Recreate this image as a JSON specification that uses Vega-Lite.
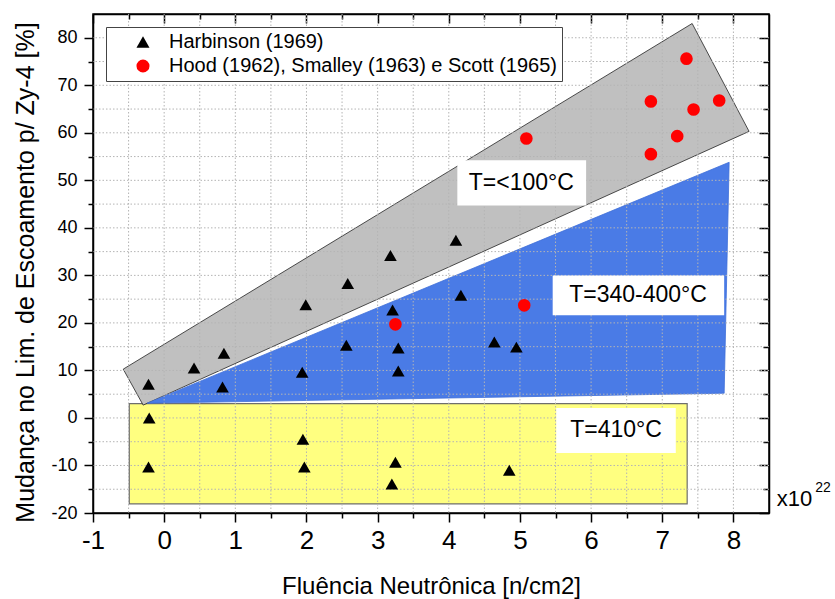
{
  "$schema": "https://vega.github.io/schema/vega-lite/v6.json",
  "width": 676,
  "height": 499,
  "autosize": "none",
  "padding": {"left": 93, "top": 14, "right": 66, "bottom": 86},
  "background": "white",
  "config": {
    "view": {"stroke": "black", "strokeWidth": 1.5},
    "font": "Liberation Sans",
    "axis": {
      "domainColor": "black", "domainWidth": 1.5,
      "tickColor": "black", "tickWidth": 1.5,
      "labelColor": "black", "titleColor": "black",
      "grid": false,
      "labelFont": "Liberation Sans", "titleFont": "Liberation Sans",
      "titleFontWeight": "normal"
    },
    "legend": {
      "orient": "top-left",
      "offset": 13,
      "strokeColor": "#444444",
      "fillColor": "white",
      "padding": 5,
      "labelFont": "Liberation Sans",
      "labelFontSize": 20,
      "labelColor": "black",
      "labelLimit": 600,
      "symbolSize": 170,
      "symbolOffset": 22,
      "labelOffset": 16,
      "rowPadding": 4,
      "symbolStrokeWidth": 0
    }
  },
  "datasets": {
    "zones": [{"zone": "410", "x": -0.49, "x2": 7.35, "y": 3.0, "y2": -18.1}],
    "band_low": [
      {"i": 1, "x": -0.575, "y": 10.27},
      {"i": 2, "x": 7.42, "y": 83.0},
      {"i": 3, "x": 8.22, "y": 60.3},
      {"i": 4, "x": -0.295, "y": 2.7},
      {"i": 5, "x": -0.575, "y": 10.27}
    ],
    "band_mid": [
      {"i": 1, "x": -0.24, "y": 3.1},
      {"i": 2, "x": 7.94, "y": 53.8},
      {"i": 3, "x": 7.87, "y": 5.2},
      {"i": 4, "x": -0.24, "y": 3.1}
    ],
    "grid_x": [
      {"x": -0.5}, {"x": 0}, {"x": 0.5}, {"x": 1}, {"x": 1.5}, {"x": 2}, {"x": 2.5}, {"x": 3}, {"x": 3.5},
      {"x": 4}, {"x": 4.5}, {"x": 5}, {"x": 5.5}, {"x": 6}, {"x": 6.5}, {"x": 7}, {"x": 7.5}, {"x": 8}
    ],
    "grid_y": [
      {"y": -15}, {"y": -10}, {"y": -5}, {"y": 0}, {"y": 5}, {"y": 10}, {"y": 15}, {"y": 20}, {"y": 25}, {"y": 30},
      {"y": 35}, {"y": 40}, {"y": 45}, {"y": 50}, {"y": 55}, {"y": 60}, {"y": 65}, {"y": 70}, {"y": 75}, {"y": 80}
    ],
    "labels": [
      {"label": "T=<100°C", "cx": 5.02, "cy": 49.4, "x_lo": 4.12, "x_hi": 5.93, "y_lo": 44.7, "y_hi": 54.2},
      {"label": "T=340-400°C", "cx": 6.66, "cy": 25.8, "x_lo": 5.46, "x_hi": 7.87, "y_lo": 21.6, "y_hi": 30.0},
      {"label": "T=410°C", "cx": 6.35, "cy": -2.55, "x_lo": 5.51, "x_hi": 7.19, "y_lo": -7.4, "y_hi": 2.07}
    ],
    "exponent": [
      {"part": "base", "t": "x10", "x": 8.61, "y": -18.5},
      {"part": "sup", "t": "22", "x": 9.15, "y": -15.6}
    ],
    "points": [
      {"series": "Harbinson (1969)", "x": -0.22, "y": 7.1},
      {"series": "Harbinson (1969)", "x": 0.42, "y": 10.5},
      {"series": "Harbinson (1969)", "x": 0.84, "y": 13.6},
      {"series": "Harbinson (1969)", "x": 0.82, "y": 6.5},
      {"series": "Harbinson (1969)", "x": 1.94, "y": 9.6},
      {"series": "Harbinson (1969)", "x": 1.99, "y": 23.8},
      {"series": "Harbinson (1969)", "x": 2.58, "y": 28.3},
      {"series": "Harbinson (1969)", "x": 3.18, "y": 34.2},
      {"series": "Harbinson (1969)", "x": 2.56, "y": 15.3},
      {"series": "Harbinson (1969)", "x": 3.21, "y": 22.7},
      {"series": "Harbinson (1969)", "x": 3.29, "y": 14.7},
      {"series": "Harbinson (1969)", "x": 3.29, "y": 9.9},
      {"series": "Harbinson (1969)", "x": 4.10, "y": 37.4},
      {"series": "Harbinson (1969)", "x": 4.17, "y": 25.8},
      {"series": "Harbinson (1969)", "x": 4.64, "y": 16.0},
      {"series": "Harbinson (1969)", "x": 4.95, "y": 14.9},
      {"series": "Harbinson (1969)", "x": -0.21, "y": 0.0},
      {"series": "Harbinson (1969)", "x": -0.22, "y": -10.3},
      {"series": "Harbinson (1969)", "x": 1.95, "y": -4.5},
      {"series": "Harbinson (1969)", "x": 1.97, "y": -10.3},
      {"series": "Harbinson (1969)", "x": 3.25, "y": -9.3},
      {"series": "Harbinson (1969)", "x": 3.20, "y": -13.9},
      {"series": "Harbinson (1969)", "x": 4.85, "y": -11.0},
      {"series": "Hood (1962), Smalley (1963) e Scott (1965)", "x": 3.25, "y": 19.7},
      {"series": "Hood (1962), Smalley (1963) e Scott (1965)", "x": 5.06, "y": 23.7},
      {"series": "Hood (1962), Smalley (1963) e Scott (1965)", "x": 5.09, "y": 58.8},
      {"series": "Hood (1962), Smalley (1963) e Scott (1965)", "x": 6.84, "y": 66.6},
      {"series": "Hood (1962), Smalley (1963) e Scott (1965)", "x": 6.84, "y": 55.5},
      {"series": "Hood (1962), Smalley (1963) e Scott (1965)", "x": 7.21, "y": 59.3},
      {"series": "Hood (1962), Smalley (1963) e Scott (1965)", "x": 7.34, "y": 75.6},
      {"series": "Hood (1962), Smalley (1963) e Scott (1965)", "x": 7.44, "y": 64.9},
      {"series": "Hood (1962), Smalley (1963) e Scott (1965)", "x": 7.80, "y": 66.8}
    ]
  },
  "layer": [
    {
      "data": {"name": "zones"},
      "mark": {"type": "rect", "fill": "#ffff80", "stroke": "#6e6e6e", "strokeWidth": 1.2},
      "encoding": {
        "x": {"field": "x", "type": "quantitative", "scale": {"domain": [-1, 8.5], "nice": false, "zero": false}, "axis": null},
        "x2": {"field": "x2"},
        "y": {"field": "y", "type": "quantitative", "scale": {"domain": [-20, 85], "nice": false, "zero": false}, "axis": null},
        "y2": {"field": "y2"}
      }
    },
    {
      "data": {"name": "band_low"},
      "mark": {"type": "line", "fill": "#c0c0c0", "stroke": "#222222", "strokeWidth": 0.8},
      "encoding": {
        "x": {"field": "x", "type": "quantitative", "scale": {"domain": [-1, 8.5], "nice": false, "zero": false}, "axis": null},
        "y": {"field": "y", "type": "quantitative", "scale": {"domain": [-20, 85], "nice": false, "zero": false}, "axis": null},
        "order": {"field": "i", "type": "quantitative"}
      }
    },
    {
      "data": {"name": "band_mid"},
      "mark": {"type": "line", "fill": "#4a7be6", "stroke": "#3f6fd8", "strokeWidth": 0.8},
      "encoding": {
        "x": {"field": "x", "type": "quantitative", "scale": {"domain": [-1, 8.5], "nice": false, "zero": false}, "axis": null},
        "y": {"field": "y", "type": "quantitative", "scale": {"domain": [-20, 85], "nice": false, "zero": false}, "axis": null},
        "order": {"field": "i", "type": "quantitative"}
      }
    },
    {
      "data": {"name": "grid_x"},
      "mark": {"type": "rule", "color": "#b4b4b4", "strokeDash": [1.5, 2], "strokeWidth": 1},
      "encoding": {
        "x": {
          "field": "x", "type": "quantitative",
          "scale": {"domain": [-1, 8.5], "nice": false, "zero": false},
          "axis": {
            "orient": "top",
            "values": [-1, -0.5, 0, 0.5, 1, 1.5, 2, 2.5, 3, 3.5, 4, 4.5, 5, 5.5, 6, 6.5, 7, 7.5, 8],
            "labels": false,
            "title": null,
            "tickSize": {"condition": {"test": "datum.value % 1 == 0", "value": -9}, "value": -5}
          }
        }
      }
    },
    {
      "data": {"name": "grid_y"},
      "mark": {"type": "rule", "color": "#b4b4b4", "strokeDash": [1.5, 2], "strokeWidth": 1},
      "encoding": {
        "y": {
          "field": "y", "type": "quantitative",
          "scale": {"domain": [-20, 85], "nice": false, "zero": false},
          "axis": {
            "orient": "right",
            "values": [-20, -15, -10, -5, 0, 5, 10, 15, 20, 25, 30, 35, 40, 45, 50, 55, 60, 65, 70, 75, 80],
            "labels": false,
            "title": null,
            "tickSize": {"condition": {"test": "datum.value % 10 == 0", "value": -10}, "value": -6}
          }
        }
      }
    },
    {
      "data": {"name": "labels"},
      "mark": {"type": "rect", "fill": "white"},
      "encoding": {
        "x": {"field": "x_lo", "type": "quantitative", "scale": {"domain": [-1, 8.5], "nice": false, "zero": false}, "axis": null},
        "x2": {"field": "x_hi"},
        "y": {"field": "y_lo", "type": "quantitative", "scale": {"domain": [-20, 85], "nice": false, "zero": false}, "axis": null},
        "y2": {"field": "y_hi"}
      }
    },
    {
      "data": {"name": "labels"},
      "mark": {"type": "text", "font": "Liberation Sans", "fontSize": 23, "color": "black", "align": "center", "baseline": "middle"},
      "encoding": {
        "x": {"field": "cx", "type": "quantitative", "scale": {"domain": [-1, 8.5], "nice": false, "zero": false}, "axis": null},
        "y": {"field": "cy", "type": "quantitative", "scale": {"domain": [-20, 85], "nice": false, "zero": false}, "axis": null},
        "text": {"field": "label"}
      }
    },
    {
      "data": {"name": "points"},
      "mark": {"type": "point", "filled": true, "size": 160, "opacity": 1},
      "encoding": {
        "x": {
          "field": "x", "type": "quantitative",
          "scale": {"domain": [-1, 8.5], "nice": false, "zero": false},
          "axis": {
            "orient": "bottom",
            "values": [-1, -0.5, 0, 0.5, 1, 1.5, 2, 2.5, 3, 3.5, 4, 4.5, 5, 5.5, 6, 6.5, 7, 7.5, 8],
            "labelExpr": "datum.value % 1 == 0 ? toString(datum.value) : ''",
            "tickSize": {"condition": {"test": "datum.value % 1 == 0", "value": 9}, "value": 5},
            "labelFontSize": 26,
            "labelPadding": 5,
            "labelFlush": false,
            "labelOverlap": false,
            "title": "Fluência Neutrônica [n/cm2]",
            "titleFontSize": 24,
            "titleY": 80,
            "titleBaseline": "alphabetic"
          }
        },
        "y": {
          "field": "y", "type": "quantitative",
          "scale": {"domain": [-20, 85], "nice": false, "zero": false},
          "axis": {
            "orient": "left",
            "values": [-20, -15, -10, -5, 0, 5, 10, 15, 20, 25, 30, 35, 40, 45, 50, 55, 60, 65, 70, 75, 80],
            "labelExpr": "datum.value % 10 == 0 ? toString(datum.value) : ''",
            "tickSize": {"condition": {"test": "datum.value % 10 == 0", "value": 9}, "value": 5},
            "labelFontSize": 18,
            "labelPadding": 7,
            "labelFlush": false,
            "labelOverlap": false,
            "title": "Mudança no Lim. de Escoamento p/ Zy-4 [%]",
            "titleFontSize": 25,
            "titleAngle": -90,
            "titleX": -60,
            "titleY": 258,
            "titleAlign": "center",
            "titleBaseline": "alphabetic"
          }
        },
        "shape": {
          "field": "series", "type": "nominal",
          "scale": {"domain": ["Harbinson (1969)", "Hood (1962), Smalley (1963) e Scott (1965)"], "range": ["triangle-up", "circle"]},
          "legend": {"title": null}
        },
        "color": {
          "field": "series", "type": "nominal",
          "scale": {"domain": ["Harbinson (1969)", "Hood (1962), Smalley (1963) e Scott (1965)"], "range": ["black", "#ff0000"]},
          "legend": {"title": null}
        }
      }
    },
    {
      "data": {"name": "exponent"},
      "transform": [{"filter": "datum.part == 'base'"}],
      "mark": {"type": "text", "font": "Liberation Sans", "fontSize": 22, "color": "black", "align": "left", "baseline": "alphabetic"},
      "encoding": {
        "x": {"field": "x", "type": "quantitative", "scale": {"domain": [-1, 8.5], "nice": false, "zero": false}, "axis": null},
        "y": {"field": "y", "type": "quantitative", "scale": {"domain": [-20, 85], "nice": false, "zero": false}, "axis": null},
        "text": {"field": "t"}
      }
    },
    {
      "data": {"name": "exponent"},
      "transform": [{"filter": "datum.part == 'sup'"}],
      "mark": {"type": "text", "font": "Liberation Sans", "fontSize": 14, "color": "black", "align": "left", "baseline": "alphabetic"},
      "encoding": {
        "x": {"field": "x", "type": "quantitative", "scale": {"domain": [-1, 8.5], "nice": false, "zero": false}, "axis": null},
        "y": {"field": "y", "type": "quantitative", "scale": {"domain": [-20, 85], "nice": false, "zero": false}, "axis": null},
        "text": {"field": "t"}
      }
    }
  ],
  "resolve": {"axis": {"x": "independent", "y": "independent"}}
}
